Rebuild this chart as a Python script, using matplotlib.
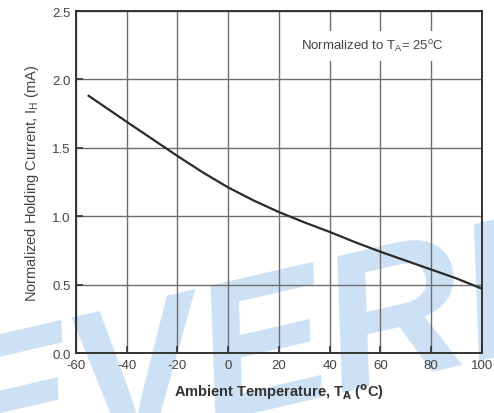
import matplotlib
matplotlib.use("Agg")
import matplotlib.pyplot as plt

# Holding current vs. ambient temperature (normalized to 25 °C)
temperature_c = [-55, -40, -30, -20, -10, 0, 10, 20, 30, 40, 50, 60, 70, 80, 90, 100]
holding_current = [1.88, 1.69, 1.565, 1.44, 1.32, 1.21, 1.115, 1.03, 0.955, 0.885,
                   0.81, 0.74, 0.675, 0.61, 0.545, 0.47]

x_ticks = [-60, -40, -20, 0, 20, 40, 60, 80, 100]
y_ticks = [0.0, 0.5, 1.0, 1.5, 2.0, 2.5]

plt.rcParams['font.family'] = ['Liberation Sans', 'DejaVu Sans']

fig = plt.figure(figsize=(4.94, 4.14), dpi=100)
fig.patch.set_facecolor('white')

# brand watermark behind the plot
fig.text(-0.08, -0.16, "EVERLIGHT", fontsize=140, fontweight='bold', fontstyle='italic',
         color='#cde1f4', rotation=13, rotation_mode='anchor',
         ha='left', va='baseline', zorder=0)

ax = fig.add_axes([0.1538, 0.1449, 0.8219, 0.8261])
ax.patch.set_alpha(0)
ax.set_zorder(1)

ax.plot(temperature_c, holding_current, color='#2a2a2a', lw=1.6, zorder=3)

ax.set_xlim(-60, 100)
ax.set_ylim(0, 2.5)
ax.set_xticks(x_ticks)
ax.set_yticks(y_ticks)
ax.set_xticklabels([str(t) for t in x_ticks])
ax.set_yticklabels([f"{v:.1f}" for v in y_ticks])
ax.grid(True, color='#6e6e6e', lw=1.0)
ax.set_axisbelow(True)
ax.tick_params(direction='in', length=5, width=1.2, color='#333333',
               labelsize=9.5, labelcolor='#444444', pad=4)
for s in ax.spines.values():
    s.set_color('#333333')
    s.set_linewidth(1.4)

ax.text(57, 2.245, r"Normalized to T$_\mathregular{A}$= 25$^\mathregular{o}$C",
        ha='center', va='center', fontsize=9.5, color='#444444', zorder=4,
        bbox=dict(facecolor='white', edgecolor='none', pad=5))

ax.set_xlabel(r"Ambient Temperature, T$_\mathbf{A}$ ($^\mathbf{o}$C)", fontsize=10.5,
              fontweight='bold', color='#333333', labelpad=8)
ax.set_ylabel(r"Normalized Holding Current, I$_\mathregular{H}$ (mA)", fontsize=10.5,
              color='#444444', labelpad=8)

fig.savefig("out.png", dpi=100)
